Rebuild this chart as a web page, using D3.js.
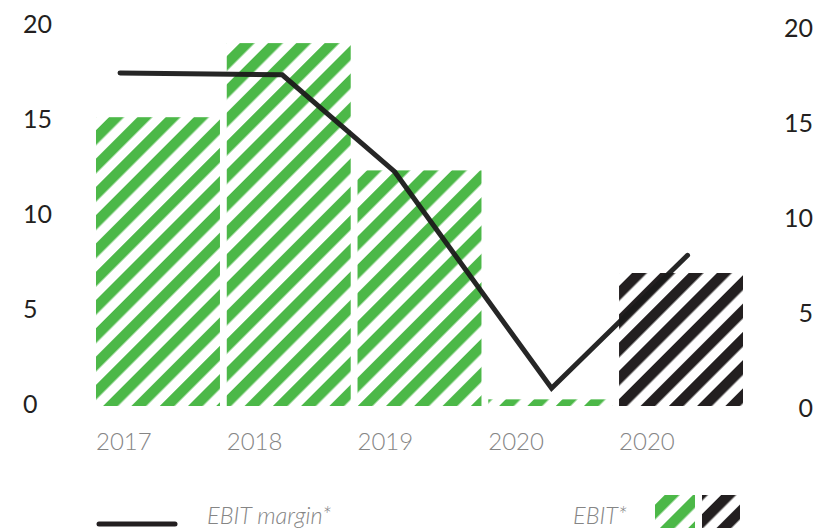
<!DOCTYPE html>
<html>
<head>
<meta charset="utf-8">
<script src="https://cdn.jsdelivr.net/npm/d3@7"></script>
<style>
  html, body { margin: 0; padding: 0; background: #fff; }
  svg { display: block; font-family: Lato, "Open Sans", sans-serif; }
</style>
</head>
<body>
<svg id="chart" width="814" height="528"></svg>
<script>
// Categories along the bottom (the last bar is the 2020 adjusted figure)
const categories = ["2017", "2018", "2019", "2020", "2020 adj"];
const categoryLabels = ["2017", "2018", "2019", "2020", "2020"];
// EBIT bars (left axis)
const ebit = [15.2, 19.1, 12.4, 0.35, 7.0];
// Fill style per bar: reported vs adjusted
const ebitStyle = ["green", "green", "green", "green", "black"];
// EBIT margin line (right axis) and where each vertex sits, in category-index units
const margin = [17.9, 17.8, 12.7, 1.3, 8.3];
const marginPos = [-0.29, 0.95, 1.81, 3.01, 4.05];
// Axis ticks
const leftTicks = [0, 5, 10, 15, 20];
const rightTicks = [0, 5, 10, 15, 20];
// Legend texts
const legendLine = "EBIT margin*";
const legendBars = "EBIT*";

const GREEN = "#4cb848";
const BLACK = "#231f20";

const svg = d3.select("#chart");

// Diagonal hatch patterns
const defs = svg.append("defs");
function hatch(id, color) {
  const p = defs.append("pattern")
    .attr("id", id)
    .attr("patternUnits", "userSpaceOnUse")
    .attr("width", 20).attr("height", 20)
    .attr("patternTransform", "rotate(45)");
  p.append("rect").attr("width", 20).attr("height", 20).attr("fill", "#fff");
  p.append("rect").attr("x", 0).attr("width", 10.5).attr("height", 20).attr("fill", color);
}
hatch("hatch-green", GREEN);
hatch("hatch-black", BLACK);
const fillFor = s => s === "green" ? "url(#hatch-green)" : "url(#hatch-black)";

// Scales
const x = d3.scaleBand().domain(categories).range([96, 743]).paddingInner(0.052).paddingOuter(0);
const xIdx = d3.scaleLinear()
  .domain([0, categories.length - 1])
  .range([x(categories[0]) + x.bandwidth() / 2, x(categories[categories.length - 1]) + x.bandwidth() / 2]);
const yLeft = d3.scaleLinear().domain([0, 20]).range([406, 26]);
const yRight = d3.scaleLinear().domain([0, 20]).range([413, 33]);

// Bars
svg.append("g").selectAll("rect")
  .data(categories)
  .join("rect")
  .attr("x", d => x(d))
  .attr("width", x.bandwidth())
  .attr("y", (d, i) => yLeft(ebit[i]))
  .attr("height", (d, i) => yLeft(0) - yLeft(ebit[i]))
  .attr("fill", (d, i) => fillFor(ebitStyle[i]));

// Left axis
const leftAxis = d3.axisLeft(yLeft).tickValues(leftTicks).tickSize(0).tickPadding(0);
const gL = svg.append("g").call(leftAxis);
gL.select(".domain").remove();
gL.selectAll("text")
  .attr("x", 23).attr("dy", "0.26em")
  .attr("text-anchor", "start")
  .attr("font-family", "Lato, sans-serif")
  .attr("font-size", 25)
  .attr("fill", BLACK);

// Right axis
const rightAxis = d3.axisRight(yRight).tickValues(rightTicks).tickSize(0).tickPadding(0);
const gR = svg.append("g").call(rightAxis);
gR.select(".domain").remove();
gR.selectAll("text")
  .attr("x", 813).attr("dy", "0.14em")
  .attr("text-anchor", "end")
  .attr("font-family", "Lato, sans-serif")
  .attr("font-size", 25)
  .attr("fill", BLACK);

// Category labels
const bottomAxis = d3.axisBottom(x).tickSize(0).tickPadding(0).tickFormat((d, i) => categoryLabels[i]);
const gB = svg.append("g").attr("transform", "translate(0,450)").call(bottomAxis);
gB.select(".domain").remove();
gB.selectAll(".tick").attr("transform", d => `translate(${x(d)},0)`);
gB.selectAll("text")
  .attr("y", 0).attr("dy", 0)
  .attr("text-anchor", "start")
  .attr("font-family", "Lato, sans-serif")
  .attr("font-weight", 300)
  .attr("font-size", 24)
  .attr("fill", "#858585");

// EBIT margin line
const line = d3.line()
  .x((d, i) => xIdx(marginPos[i]))
  .y(d => yRight(d));
svg.append("path")
  .datum(margin)
  .attr("d", line)
  .attr("fill", "none")
  .attr("stroke", "#1a1a1a")
  .attr("stroke-opacity", 0.95)
  .attr("stroke-width", 5)
  .attr("stroke-linejoin", "miter")
  .attr("stroke-linecap", "round");

// Legend
const lg = svg.append("g").attr("class", "legend");
lg.append("line")
  .attr("x1", 99).attr("x2", 175)
  .attr("y1", 524).attr("y2", 524)
  .attr("stroke", BLACK).attr("stroke-width", 5).attr("stroke-linecap", "round");
lg.append("text")
  .attr("x", 207).attr("y", 524)
  .attr("font-family", "Lato, sans-serif")
  .attr("font-style", "italic").attr("font-weight", 300)
  .attr("font-size", 23.5).attr("fill", "#858585")
  .text(legendLine);
lg.append("text")
  .attr("x", 573).attr("y", 524)
  .attr("font-family", "Lato, sans-serif")
  .attr("font-style", "italic").attr("font-weight", 300)
  .attr("font-size", 23.5).attr("fill", "#858585")
  .text(legendBars);
lg.append("rect").attr("x", 655).attr("y", 495).attr("width", 40).attr("height", 40).attr("fill", fillFor("green"));
lg.append("rect").attr("x", 702).attr("y", 495).attr("width", 38).attr("height", 40).attr("fill", fillFor("black"));
</script>
</body>
</html>
